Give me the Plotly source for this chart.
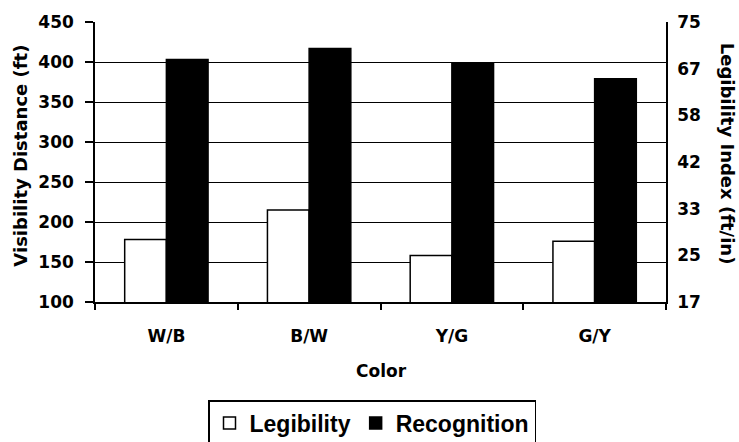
import plotly.graph_objects as go

# Sign colour combinations and measured distances (ft)
categories = ["W/B", "B/W", "Y/G", "G/Y"]
legibility = [178, 215, 158, 176]
recognition = [403, 417, 399, 379]

# Secondary axis: legibility index (ft/in), evenly spaced labels
index_labels = ["17", "25", "33", "42", "58", "67", "75"]

AXIS_FONT = "DejaVu Sans, Verdana, sans-serif"
LEGEND_FONT = "Liberation Sans, Arial, sans-serif"

fig = go.Figure()
fig.add_trace(go.Bar(
    name="Legibility", x=categories, y=legibility,
    marker=dict(color="white", line=dict(color="black", width=1.5)),
))
fig.add_trace(go.Bar(
    name="Recognition", x=categories, y=recognition,
    marker=dict(color="black", line=dict(color="black", width=1.5)),
))
# Empty trace so the right-hand index axis is rendered
fig.add_trace(go.Scatter(
    x=categories, y=[None] * len(categories), yaxis="y2",
    mode="markers", showlegend=False, hoverinfo="skip",
))

W, H = 739, 442
L, R, T, B = 95, 73, 15, 140
pw, ph = W - L - R, H - T - B


def px_x(x):
    return (x - L) / pw


def px_y(y):
    return (H - B - y) / ph


tick_font = dict(family=AXIS_FONT, size=17, color="black", weight="bold")

fig.update_layout(
    width=W, height=H,
    margin=dict(l=L, r=R, t=T, b=B, pad=0),
    paper_bgcolor="white", plot_bgcolor="white",
    font=dict(family=AXIS_FONT, size=17, color="black", weight="bold"),
    barmode="group", bargap=0.416, bargroupgap=0,
    showlegend=True,
    legend=dict(
        orientation="h", xref="container", yref="container",
        x=208 / W, xanchor="left",
        y=1 - 400 / H, yanchor="top",
        bordercolor="black", borderwidth=1.5, bgcolor="white",
        font=dict(family=LEGEND_FONT, size=23, color="black", weight="bold"),
        itemwidth=30,
        itemclick=False, itemdoubleclick=False,
    ),
    xaxis=dict(
        type="category", showgrid=False,
        showline=True, linecolor="black", linewidth=1.5,
        ticks="outside", tickson="boundaries", ticklen=6,
        tickcolor="black", tickwidth=1.5,
        ticklabelstandoff=18,
        tickfont=tick_font,
    ),
    yaxis=dict(
        range=[100, 450], tickvals=list(range(100, 451, 50)),
        showgrid=True, gridcolor="black", gridwidth=1.3,
        showline=True, linecolor="black", linewidth=1.5,
        ticks="outside", ticklen=8, tickcolor="black", tickwidth=1.5,
        ticklabelstandoff=8, zeroline=False,
        tickfont=tick_font,
    ),
    yaxis2=dict(
        overlaying="y", side="right", anchor="x",
        range=[0, len(index_labels) - 1],
        tickvals=list(range(len(index_labels))), ticktext=index_labels,
        showgrid=False, zeroline=False,
        showline=True, linecolor="black", linewidth=1.5,
        ticks="", ticklabelstandoff=6,
        tickfont=tick_font,
    ),
    annotations=[
        dict(text="Visibility Distance (ft)", xref="paper", yref="paper",
             x=px_x(21), y=px_y(152), textangle=-90, showarrow=False,
             xanchor="center", yanchor="middle",
             font=dict(family=AXIS_FONT, size=18, color="black", weight="bold")),
        dict(text="Legibility Index (ft/in)", xref="paper", yref="paper",
             x=px_x(727), y=px_y(150), textangle=90, showarrow=False,
             xanchor="center", yanchor="middle",
             font=dict(family=AXIS_FONT, size=18, color="black", weight="bold")),
        dict(text="Color", xref="paper", yref="paper",
             x=px_x(381), y=px_y(373), showarrow=False,
             xanchor="center", yanchor="middle",
             font=dict(family=AXIS_FONT, size=17, color="black", weight="bold")),
    ],
)

fig.write_html("out.html")
